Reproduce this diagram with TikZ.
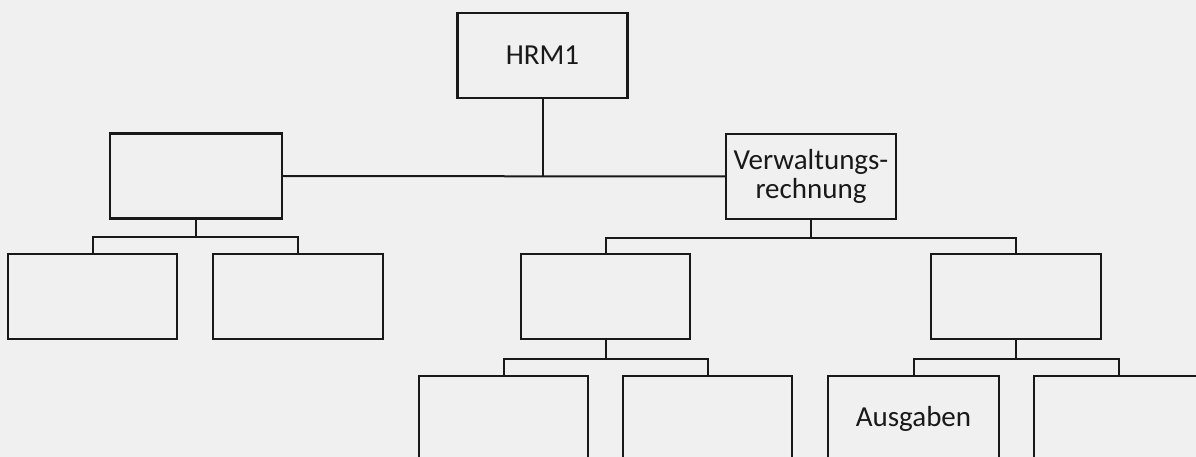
\documentclass[tikz,border=0pt]{standalone}
\usepackage{fontspec}
\setmainfont{Carlito}
\definecolor{paper}{RGB}{240,240,240}
\definecolor{ink}{RGB}{25,25,25}
\begin{document}
\begin{tikzpicture}[x=1pt,y=-1pt,
  box/.style={draw=ink,line width=2.4pt,rectangle,minimum width=170pt,minimum height=85pt,inner sep=0pt,align=center,font=\fontsize{29}{29}\selectfont,text=ink},
  conn/.style={draw=ink,line width=2pt}]
\useasboundingbox (0,0) rectangle (1196,457);
\fill[paper] (0,0) rectangle (1196,457);
\clip (0,0) rectangle (1196,457);
\node[box] (hrm) at (542.5,55.5) {HRM1};
\node[box,minimum width=172pt] (left) at (196,176) {};
\node[box] (verw) at (811,176.5) {Verwaltungs-\\rechnung};
\node[box,minimum width=169pt] (l1) at (92.5,296.5) {};
\node[box] (l2) at (298,296.5) {};
\node[box,minimum width=169pt] (r1) at (605.5,296.5) {};
\node[box] (r2) at (1016,296.5) {};
\node[box,minimum width=169pt] (g1) at (503.5,418.5) {};
\node[box,minimum width=169pt] (g2) at (707.5,418.5) {};
\node[box,minimum width=171pt] (g3) at (913.5,418.5) {Ausgaben};
\node[box] (g4) at (1119,418.5) {};
\draw[conn] (left.east) -- (verw.west);
\draw[conn] (hrm.south) -- (hrm.south |- left.east);
\draw[conn] (left.south) -- ++(0,17.5) coordinate (b1);
\draw[conn] (l1.north) |- (b1) -| (l2.north);
\draw[conn] (verw.south) -- ++(0,18) coordinate (b2);
\draw[conn] (r1.north) |- (b2) -| (r2.north);
\draw[conn] (r1.south) -- ++(0,19) coordinate (b3);
\draw[conn] (g1.north) |- (b3) -| (g2.north);
\draw[conn] (r2.south) -- ++(0,19) coordinate (b4);
\draw[conn] (g3.north) |- (b4) -| (g4.north);
\end{tikzpicture}
\end{document}
